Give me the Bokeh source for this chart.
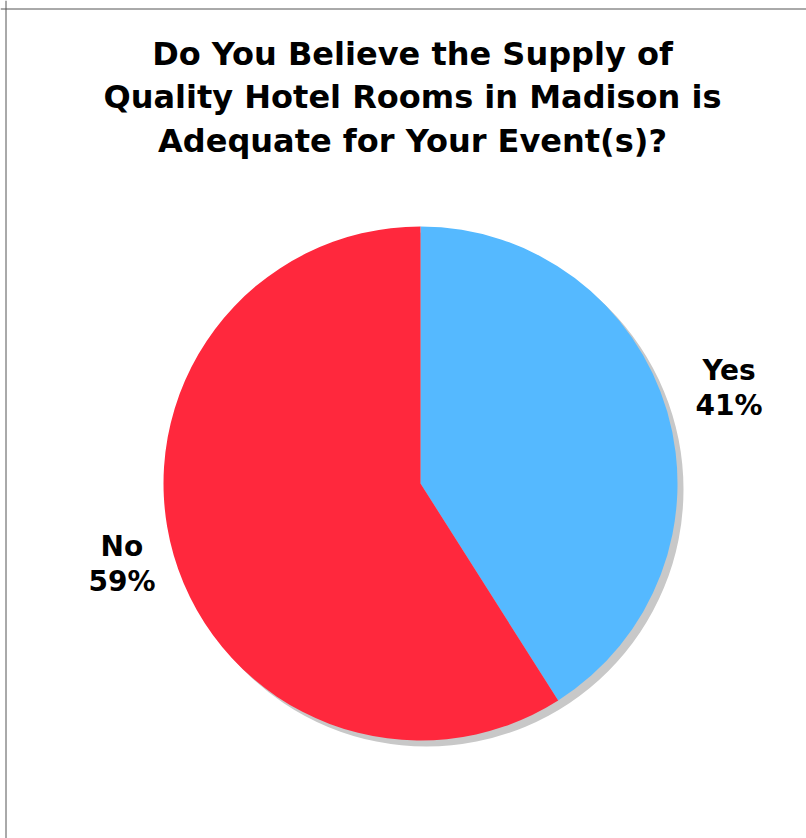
import numpy as np
from bokeh.plotting import figure
from bokeh.models import Range1d, Span, ColumnDataSource
from bokeh.core.properties import value
from bokeh.embed import file_html
from bokeh.resources import INLINE

# Survey answers
categories = ["Yes", "No"]
shares = [41, 59]
colors = ["#55B9FF", "#FF283D"]
title_lines = [
    "Do You Believe the Supply of",
    "Quality Hotel Rooms in Madison is",
    "Adequate for Your Event(s)?",
]

W, H = 806, 838
FONT = value("DejaVu Sans")

p = figure(width=W, height=H, output_backend="svg", toolbar_location=None,
           x_range=Range1d(0, W), y_range=Range1d(0, H),
           min_border=0, outline_line_color=None, background_fill_color="white",
           border_fill_color="white")
p.axis.visible = False
p.grid.visible = False

# page frame (top and left rules)
p.add_layout(Span(location=H - 8.5, dimension="width", line_color="#555555", line_width=1))
p.add_layout(Span(location=5.5, dimension="height", line_color="#555555", line_width=1))

# pie geometry in pixel-sized data units
cx, cy, r = 420, H - 483, 257

frac = np.array(shares, dtype=float) / sum(shares)
ends = np.cumsum(frac) * 2 * np.pi
starts = ends - frac * 2 * np.pi
start_ang = np.pi / 2 - starts
end_ang = np.pi / 2 - ends
mid_ang = (start_ang + end_ang) / 2

# drop shadow
p.circle(x=[cx + 6], y=[cy - 6], radius=r, fill_color="#C8C8C8", line_color=None)

src = ColumnDataSource(dict(cat=categories, start=start_ang, end=end_ang, color=colors))
p.wedge(x=cx, y=cy, radius=r, start_angle="start", end_angle="end", direction="clock",
        fill_color="color", line_color=None, source=src)

# slice labels, nudged slightly right of the radial anchor
lr = r * 1.23
lx = cx + lr * np.cos(mid_ang) + 5
ly = cy + lr * np.sin(mid_ang)
pct = [f"{s}%" for s in shares]
label_style = dict(text_font=FONT, text_font_style="bold", text_font_size="28px",
                   text_align="center", text_baseline="middle", text_color="black")
p.text(x=lx, y=ly + 25, text=categories, **label_style)
p.text(x=lx, y=ly - 10, text=pct, **label_style)

# title
ty = [H - 53, H - 96.5, H - 140]
p.text(x=[412] * 3, y=ty, text=title_lines, text_font=FONT, text_font_style="bold",
       text_font_size="32px", text_align="center", text_baseline="middle", text_color="black")

open("out.html", "w").write(file_html(p, INLINE))
